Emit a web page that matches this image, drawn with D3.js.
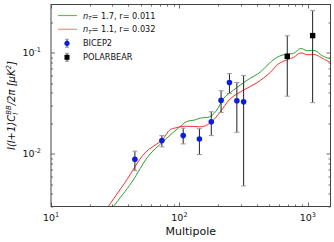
<!DOCTYPE html>
<html>
<head>
<meta charset="utf-8">
<script src="https://cdn.jsdelivr.net/npm/d3@7"></script>
<style>
  body { margin: 0; background: #fff; }
  svg { display: block; font-family: "DejaVu Sans", sans-serif; }
</style>
</head>
<body>
<div id="chart"></div>
<script>
// BICEP2 bandpowers
const bicepL = [45, 73, 107, 143, 177, 211, 245, 280, 316];
const bicepV = [0.0088, 0.0135, 0.0151, 0.0140, 0.0207, 0.0337, 0.0506, 0.0334, 0.0327];
const bicepLo = [0.0068, 0.0117, 0.0125, 0.0098, 0.0151, 0.0256, 0.0395, 0.0163, 0.0048];
const bicepHi = [0.0106, 0.0151, 0.0179, 0.0177, 0.0260, 0.0420, 0.0620, 0.0506, 0.0596];

// POLARBEAR bandpowers
const polarL = [691, 1089];
const polarV = [0.092, 0.1476];
const polarLo = [0.0371, 0.032];
const polarHi = [0.147, 0.261];

// model curves
const greenL = [28, 31.1, 42.5, 57.3, 75, 98.2, 114.2, 132.5, 145, 173.4, 195.7, 220.4, 263.6, 335, 425.5, 480, 574, 687, 774, 873, 984, 1142, 1289, 1496];
const greenV = [0.00258, 0.00308, 0.00521, 0.00948, 0.01327, 0.01795, 0.0208, 0.0216, 0.0225, 0.0233, 0.0271, 0.0352, 0.0426, 0.0532, 0.0641, 0.0746, 0.0899, 0.0971, 0.0984, 0.110, 0.1047, 0.1047, 0.0935, 0.0867];
const redL = [27, 28.3, 37.8, 54.1, 72.9, 84.7, 92.5, 104.5, 128.6, 153.8, 179, 207.6, 248, 315.6, 401, 509, 591, 687, 774, 873, 984, 1142, 1325, 1496];
const redV = [0.00282, 0.00308, 0.00521, 0.01023, 0.0136, 0.0173, 0.01795, 0.0186, 0.0186, 0.0186, 0.0208, 0.0259, 0.0348, 0.0426, 0.0504, 0.0637, 0.0776, 0.0849, 0.0900, 0.0994, 0.0955, 0.0955, 0.0868, 0.0804];

const xMajor = [10, 100, 1000];
const yMajor = [0.01, 0.1];
const legendLabels = [["1.7", "0.011"], ["1.1", "0.032"]];

const W = 334, H = 242;
const margin = { top: 4.5, right: 3.5, bottom: 35.5, left: 51 };
const width = W - margin.left - margin.right;
const height = H - margin.top - margin.bottom;

const svg = d3.select('#chart').append('svg')
  .attr('width', W)
  .attr('height', H);

const chart = svg.append('g')
  .attr('transform', `translate(${margin.left},${margin.top})`);

const x = d3.scaleLog().domain([10, 1500]).range([0, width]);
const y = d3.scaleLog().domain([0.003, 0.3]).range([height, 0]);

chart.append('clipPath').attr('id', 'clip')
  .append('rect').attr('width', width).attr('height', height);

// minor ticks: 2..9 times each decade
const minor = (dom, decades) => {
  const out = [];
  decades.forEach(d => { for (let k = 2; k <= 9; k++) { const v = d * k; if (v >= dom[0] && v <= dom[1]) out.push(v); } });
  return out;
};
const xMinor = minor(x.domain(), [10, 100, 1000]);
const yMinor = minor(y.domain(), [0.001, 0.01, 0.1]);

const tickColor = '#444';
const ticks = chart.append('g').attr('stroke', tickColor).attr('stroke-width', 0.8);
[[xMajor, 4], [xMinor, 2]].forEach(([vals, len]) => {
  vals.forEach(v => {
    const px = Math.round(x(v)) + 0.5;
    ticks.append('line').attr('x1', px).attr('x2', px).attr('y1', height).attr('y2', height - len);
    ticks.append('line').attr('x1', px).attr('x2', px).attr('y1', 0).attr('y2', len);
  });
});
[[yMajor, 4], [yMinor, 2]].forEach(([vals, len]) => {
  vals.forEach(v => {
    const py = Math.round(y(v)) + 0.5;
    ticks.append('line').attr('y1', py).attr('y2', py).attr('x1', 0).attr('x2', len);
    ticks.append('line').attr('y1', py).attr('y2', py).attr('x1', width).attr('x2', width - len);
  });
});

// tick labels as 10^n
xMajor.forEach(v => {
  const t = chart.append('text')
    .attr('x', x(v)).attr('y', height + 14)
    .attr('text-anchor', 'middle')
    .attr('font-size', 9.5).attr('fill', '#111');
  t.append('tspan').text('10');
  t.append('tspan').attr('dy', -4).attr('font-size', 6.5).text(Math.round(Math.log10(v)));
});
yMajor.forEach(v => {
  const t = chart.append('text')
    .attr('x', -10).attr('y', y(v) + 3.5)
    .attr('text-anchor', 'end')
    .attr('font-size', 9.5).attr('fill', '#111');
  t.append('tspan').text('10');
  t.append('tspan').attr('dy', -4).attr('font-size', 6.5).text(Math.round(Math.log10(v)));
});

// curves
const line = d3.line().x(d => x(d[0])).y(d => y(d[1])).curve(d3.curveCatmullRom.alpha(0.5));
const curves = chart.append('g').attr('clip-path', 'url(#clip)');
curves.append('path')
  .datum(greenL.map((l, i) => [l, greenV[i]]))
  .attr('d', line).attr('fill', 'none').attr('stroke', '#2e9e2e').attr('stroke-width', 1);
curves.append('path')
  .datum(redL.map((l, i) => [l, redV[i]]))
  .attr('d', line).attr('fill', 'none').attr('stroke', '#ff2a2a').attr('stroke-width', 1);

// error bars
function errorBars(L, V, Lo, Hi) {
  const g = chart.append('g');
  L.forEach((l, i) => {
    const px = x(l);
    g.append('line').attr('x1', px).attr('x2', px)
      .attr('y1', y(Lo[i])).attr('y2', y(Hi[i]))
      .attr('stroke', '#222').attr('stroke-width', 1);
    [Lo[i], Hi[i]].forEach(v => {
      g.append('line').attr('x1', px - 2.5).attr('x2', px + 2.5)
        .attr('y1', y(v)).attr('y2', y(v))
        .attr('stroke', '#999').attr('stroke-width', 1);
    });
  });
}
errorBars(bicepL, bicepV, bicepLo, bicepHi);
errorBars(polarL, polarV, polarLo, polarHi);

chart.append('g').selectAll('circle')
  .data(bicepL.map((l, i) => [l, bicepV[i]]))
  .join('circle')
  .attr('cx', d => x(d[0])).attr('cy', d => y(d[1]))
  .attr('r', 2.8).attr('fill', '#0a1ee0');

chart.append('g').selectAll('rect')
  .data(polarL.map((l, i) => [l, polarV[i]]))
  .join('rect')
  .attr('x', d => x(d[0]) - 2.7).attr('y', d => y(d[1]) - 2.7)
  .attr('width', 5.4).attr('height', 5.4).attr('fill', '#000');

// frame
chart.append('rect')
  .attr('width', width).attr('height', height)
  .attr('fill', 'none').attr('stroke', tickColor).attr('stroke-width', 1);

// legend
const leg = svg.append('g').attr('font-size', 8.2).attr('fill', '#111');
const legColors = ['#5cbf5c', '#ff8a8a'];
legendLabels.forEach((lab, i) => {
  const ly = 15.5 + i * 13.8;
  leg.append('line').attr('x1', 58).attr('x2', 77).attr('y1', ly).attr('y2', ly)
    .attr('stroke', legColors[i]).attr('stroke-width', 1.2);
  const t = leg.append('text').attr('x', 83).attr('y', ly + 3);
  t.append('tspan').attr('font-style', 'italic').text('n');
  t.append('tspan').attr('font-style', 'italic').attr('font-size', 5.5).attr('dy', 1.5).text('T');
  t.append('tspan').attr('dy', -1.5).text(`= ${lab[0]},  r= ${lab[1]}`);
});
[['BICEP2', 'circle'], ['POLARBEAR', 'square']].forEach(([name, shape], i) => {
  const ly = 43.3 + i * 14;
  leg.append('line').attr('x1', 67).attr('x2', 67).attr('y1', ly - 4).attr('y2', ly + 4)
    .attr('stroke', '#222');
  [ly - 4, ly + 4].forEach(cy => leg.append('line').attr('x1', 65).attr('x2', 69)
    .attr('y1', cy).attr('y2', cy).attr('stroke', '#999'));
  if (shape === 'circle') {
    leg.append('circle').attr('cx', 67).attr('cy', ly).attr('r', 2.6).attr('fill', '#0a1ee0');
  } else {
    leg.append('rect').attr('x', 64.5).attr('y', ly - 2.5).attr('width', 5).attr('height', 5).attr('fill', '#000');
  }
  leg.append('text').attr('x', 83).attr('y', ly + 3).text(name);
});

// axis titles
svg.append('text')
  .attr('x', margin.left + width / 2).attr('y', 235)
  .attr('text-anchor', 'middle').attr('font-size', 11).attr('fill', '#111')
  .text('Multipole');

const yt = svg.append('text')
  .attr('transform', `translate(15,${margin.top + height / 2}) rotate(-90)`)
  .attr('text-anchor', 'middle').attr('font-size', 10).attr('fill', '#111')
  .attr('font-style', 'italic');
yt.append('tspan').text('l(l+1)C');
yt.append('tspan').attr('font-size', 7).attr('dy', 2.5).text('l');
yt.append('tspan').attr('font-size', 7).attr('dx', -2).attr('dy', -7).text('BB');
yt.append('tspan').attr('dy', 4.5).text('/2π [μK');
yt.append('tspan').attr('font-size', 7).attr('dy', -4).text('2');
yt.append('tspan').attr('dy', 4).text(']');
</script>
</body>
</html>
